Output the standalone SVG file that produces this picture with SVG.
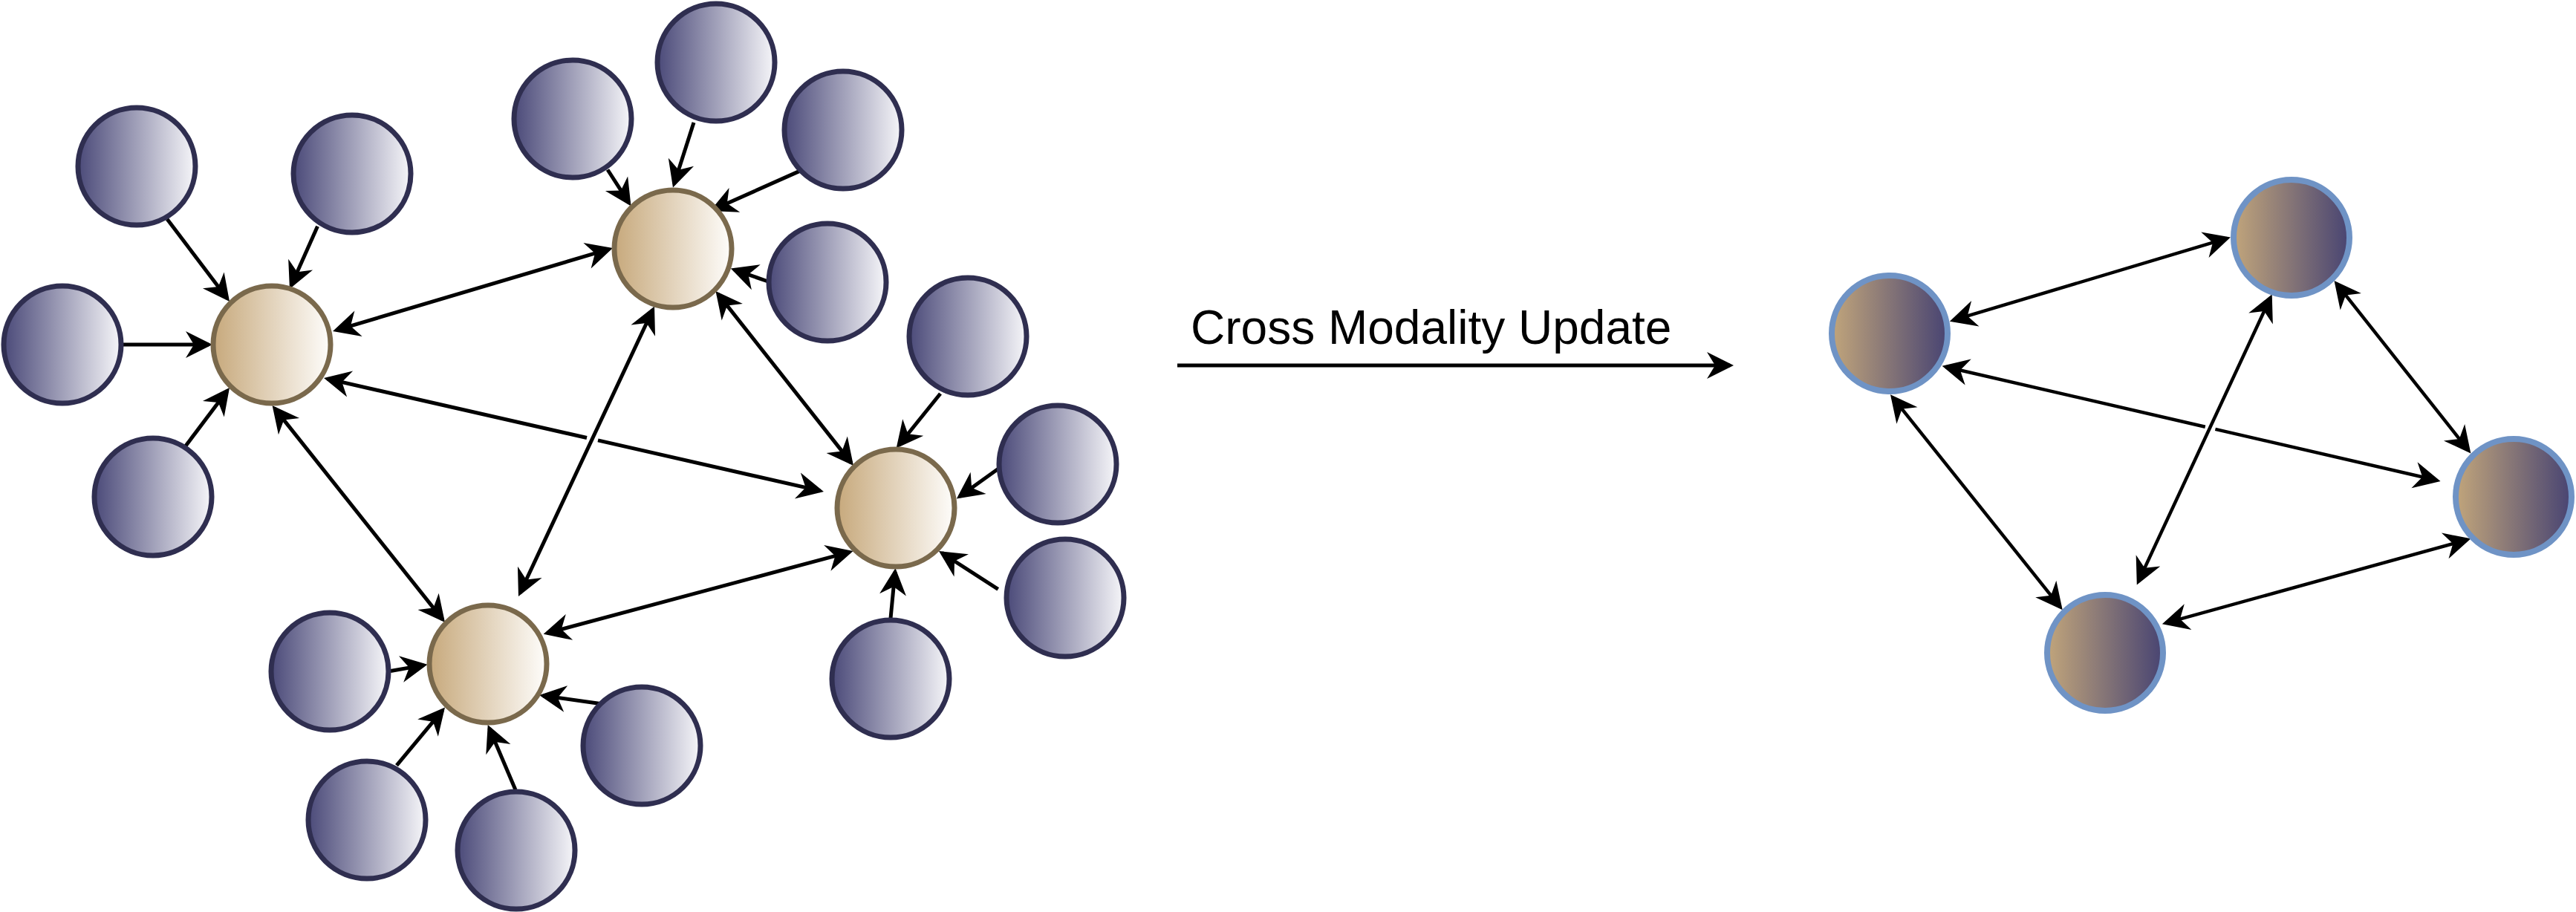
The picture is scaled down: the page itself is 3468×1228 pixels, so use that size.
<svg xmlns="http://www.w3.org/2000/svg" width="3468" height="1228" viewBox="0 0 3468 1228">
<defs>
<linearGradient id="gSat" x1="0" y1="0" x2="1" y2="0">
<stop offset="0" stop-color="#4b4a79"/>
<stop offset="1" stop-color="#f6f6f9"/>
</linearGradient>
<linearGradient id="gHub" x1="0" y1="0" x2="1" y2="0">
<stop offset="0" stop-color="#c7a97c"/>
<stop offset="1" stop-color="#fefdfb"/>
</linearGradient>
<linearGradient id="gFused" x1="0" y1="0" x2="1" y2="0">
<stop offset="0" stop-color="#c1a57b"/>
<stop offset="1" stop-color="#484472"/>
</linearGradient>
<marker id="ah" markerUnits="userSpaceOnUse" viewBox="-40 -20 50 40" markerWidth="50" markerHeight="40" refX="0" refY="0" orient="auto-start-reverse">
<path d="M5,0 L-31,-18 L-20,0 L-31,18 Z" fill="#000"/>
</marker>
</defs>
<style>
.sat{fill:url(#gSat);stroke:#2f2e50;stroke-width:7}
.hub{fill:url(#gHub);stroke:#7a694c;stroke-width:7}
.fused{fill:url(#gFused);stroke:#6f93c5;stroke-width:8}
.c1{fill:none;stroke:#000;stroke-width:5;marker-end:url(#ah)}
.c2{fill:none;stroke:#000;stroke-width:5;marker-start:url(#ah);marker-end:url(#ah)}
.c3{fill:none;stroke:#000;stroke-width:4.5;marker-start:url(#ah);marker-end:url(#ah)}
.lbl{font-family:"Liberation Sans",Arial,Helvetica,sans-serif;font-size:64px;fill:#000}
</style>
<g id="connectors">
<path class="c1" d="M225,295 L306,402"/>
<path class="c1" d="M427.5,304.7 L392,384.4"/>
<path class="c1" d="M165,464 L281,464"/>
<path class="c1" d="M249.5,601 L306,526"/>
<path class="c1" d="M818,228.5 L846.8,273.2"/>
<path class="c1" d="M934,165 L907.5,247.8"/>
<path class="c1" d="M1076.4,230.4 L960.6,282"/>
<path class="c1" d="M1034,379 L988.5,363.2"/>
<path class="c1" d="M1266,530 L1209.8,599.7"/>
<path class="c1" d="M1346.3,629.5 L1291.9,668.5"/>
<path class="c1" d="M1343.7,793.3 L1268.2,744.7"/>
<path class="c1" d="M1199,832.6 L1205,770"/>
<path class="c1" d="M525.8,903.5 L570.6,895.6"/>
<path class="c1" d="M534,1030.6 L595.8,956.3"/>
<path class="c1" d="M694,1063.5 L658.7,980.6"/>
<path class="c1" d="M808,947.5 L731,936.7"/>
<path class="c2" d="M452.8,444.6 L820.2,335.4"/>
<path class="c2" d="M440.9,510.1 L790,589.5 M805,592.9 L1104.1,660.9"/>
<path class="c2" d="M369.7,549.9 L595.9,834.1"/>
<path class="c2" d="M966.6,395.9 L1145.9,623.1"/>
<path class="c2" d="M878.9,417 L700.1,798.5"/>
<path class="c2" d="M1143.7,743.3 L736.5,852.5"/>
<path class="c1" d="M1585,492 L2329,492"/>
<path class="c3" d="M2629.6,431.2 L2998.1,320.9"/>
<path class="c3" d="M2619.5,494 L2968.8,574.7 M2982.4,577.9 L3280.7,646.8"/>
<path class="c3" d="M2548.1,535.2 L2773.6,817.3"/>
<path class="c3" d="M3056.6,400.9 L2878.9,782.9"/>
<path class="c3" d="M3145.6,381.9 L3323.3,606.6"/>
<path class="c3" d="M2915.7,838.9 L3321.6,726.7"/>
</g>
<g id="hubA"><circle class="hub" cx="366" cy="464" r="79"/></g>
<g id="hubB"><circle class="hub" cx="906" cy="335" r="79"/></g>
<g id="hubC"><circle class="hub" cx="1206" cy="684" r="79"/></g>
<g id="hubD"><circle class="hub" cx="657" cy="894" r="79"/></g>
<g id="satA1"><circle class="sat" cx="184" cy="224" r="79"/></g>
<g id="satA2"><circle class="sat" cx="474" cy="234" r="79"/></g>
<g id="satA3"><circle class="sat" cx="84" cy="464" r="79"/></g>
<g id="satA4"><circle class="sat" cx="206" cy="669" r="79"/></g>
<g id="satB1"><circle class="sat" cx="771" cy="160" r="79"/></g>
<g id="satB2"><circle class="sat" cx="964" cy="84" r="79"/></g>
<g id="satB3"><circle class="sat" cx="1135" cy="175" r="79"/></g>
<g id="satB4"><circle class="sat" cx="1114" cy="380" r="79"/></g>
<g id="satC1"><circle class="sat" cx="1303" cy="453" r="79"/></g>
<g id="satC2"><circle class="sat" cx="1424" cy="625" r="79"/></g>
<g id="satC3"><circle class="sat" cx="1434" cy="805" r="79"/></g>
<g id="satC4"><circle class="sat" cx="1199" cy="914" r="79"/></g>
<g id="satD1"><circle class="sat" cx="444" cy="904" r="79"/></g>
<g id="satD2"><circle class="sat" cx="494" cy="1104" r="79"/></g>
<g id="satD3"><circle class="sat" cx="695" cy="1145" r="79"/></g>
<g id="satD4"><circle class="sat" cx="864" cy="1004" r="79"/></g>
<g id="label"><text class="lbl" x="1603" y="463">Cross Modality Update</text></g>
<g id="fused1"><circle class="fused" cx="2544" cy="449" r="78"/></g>
<g id="fused2"><circle class="fused" cx="3085" cy="320" r="78"/></g>
<g id="fused3"><circle class="fused" cx="3384" cy="669" r="78"/></g>
<g id="fused4"><circle class="fused" cx="2834" cy="879" r="78"/></g>
</svg>
